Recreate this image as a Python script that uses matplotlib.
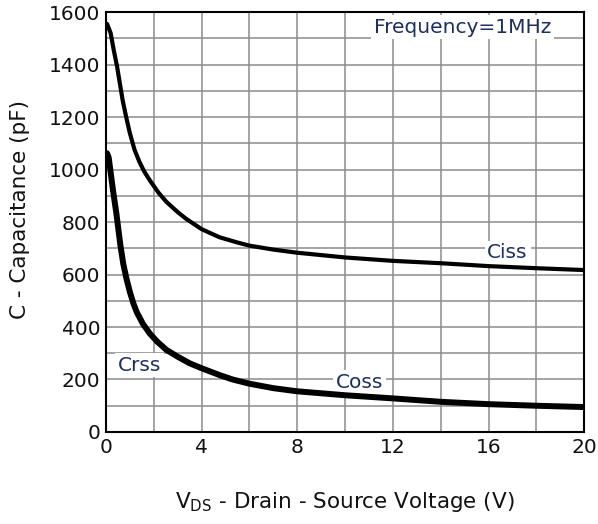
import matplotlib
matplotlib.use('Agg')
import matplotlib.pyplot as plt
from matplotlib.ticker import MultipleLocator

plt.rcParams['font.family'] = ['DejaVu Sans']
plt.rcParams['mathtext.default'] = 'regular'

# Ciss curve
v_ciss = [0.05, 0.2, 0.33, 0.47, 0.7, 0.85, 1.0, 1.2, 1.4, 1.6, 1.83, 2.2, 2.53, 3.0, 3.36, 4.0, 4.75, 5.5, 6.0, 7.0, 8.0, 10.0, 12.0, 14.0, 16.0, 18.0, 20.0]
ciss = [1555, 1520, 1455, 1392, 1265, 1200, 1140, 1075, 1030, 993, 960, 912, 877, 838, 812, 773, 742, 722, 710, 695, 683, 665, 652, 643, 632, 624, 617]

# Coss / Crss curve (drawn as one thick trace in the picture)
v_coss = [0.05, 0.12, 0.2, 0.3, 0.44, 0.52, 0.61, 0.73, 0.86, 1.0, 1.15, 1.3, 1.55, 1.83, 2.15, 2.53, 3.0, 3.5, 4.0, 4.75, 5.3, 6.0, 7.0, 8.0, 10.0, 12.0, 14.0, 16.0, 18.0, 20.0]
coss = [1062, 1045, 990, 920, 833, 775, 710, 640, 585, 535, 490, 455, 412, 376, 344, 313, 287, 262, 243, 217, 200, 184, 167, 155, 140, 128, 115, 106, 100, 95]

text_col = '#1c2f5e'

fig = plt.figure(figsize=(5.98, 5.24), dpi=100)
ax = fig.add_axes([0.177, 0.1756, 0.8, 0.8014])

ax.plot(v_ciss, ciss, color='black', lw=3, solid_capstyle='round', solid_joinstyle='round', zorder=3)
ax.plot(v_coss, coss, color='black', lw=4.3, solid_capstyle='round', solid_joinstyle='round', zorder=3)

ax.set_xlim(0, 20)
ax.set_ylim(0, 1600)
ax.xaxis.set_major_locator(MultipleLocator(4))
ax.xaxis.set_minor_locator(MultipleLocator(2))
ax.yaxis.set_major_locator(MultipleLocator(200))
ax.yaxis.set_minor_locator(MultipleLocator(100))
ax.grid(True, which='both', color='#8c8c8c', lw=1.1, zorder=1)
ax.tick_params(which='both', length=0, labelsize=14.5, labelcolor='#111111', pad=4)
for s in ax.spines.values():
    s.set_linewidth(1.5)
    s.set_color('black')
    s.set_zorder(4)

box = dict(facecolor='white', edgecolor='none', pad=2)
ax.text(0.5, 255, 'Crss', fontsize=14.5, color=text_col, va='center', ha='left', bbox=box, zorder=2)
ax.text(9.6, 190, 'Coss', fontsize=14.5, color=text_col, va='center', ha='left', bbox=box, zorder=2)
ax.text(15.95, 682, 'Ciss', fontsize=14.5, color=text_col, va='center', ha='left', bbox=box, zorder=2)
ax.text(11.2, 1543, 'Frequency=1MHz', fontsize=14.5, color=text_col, va='center', ha='left', bbox=box, zorder=2)

ax.set_ylabel('C - Capacitance (pF)', fontsize=15.5, color='#111111')
ax.yaxis.set_label_coords(-0.158, 0.529)
ax.set_xlabel('V$_{DS}$ - Drain - Source Voltage (V)', fontsize=15.5, color='#111111', labelpad=24)

plt.savefig('out.png', dpi=100)
plt.close()
